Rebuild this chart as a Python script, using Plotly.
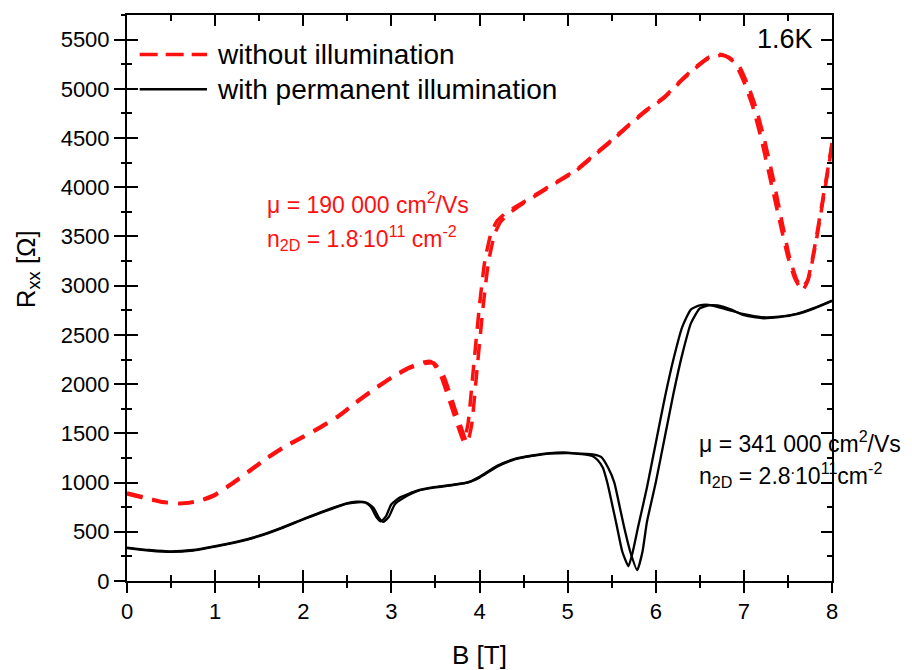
import plotly.graph_objects as go

# ---- data ----
# red dashed: without illumination (two sweeps)
red_up_B = [0.0, 0.2, 0.4, 0.6, 0.8, 1.0, 1.2, 1.4, 1.6, 1.8, 2.0, 2.2, 2.4, 2.6, 2.8,
            3.0, 3.2, 3.35, 3.45, 3.55, 3.67, 3.76, 3.82, 3.87, 3.93, 4.0, 4.06, 4.13, 4.2, 4.3,
            4.5, 4.7, 4.9, 5.1, 5.3, 5.5, 5.7, 5.9, 6.1, 6.3, 6.45, 6.6, 6.72, 6.8, 6.9,
            7.0, 7.1, 7.2, 7.3, 7.4, 7.5, 7.58, 7.65, 7.72, 7.8, 7.88, 7.95, 8.0]
red_up_R = [895, 850, 805, 790, 810, 880, 1000, 1130, 1260, 1375, 1470, 1570, 1680, 1820, 1950,
            2070, 2170, 2220, 2230, 2110, 1800, 1560, 1420, 1600, 2150, 2800, 3250, 3530, 3660, 3740,
            3850, 3960, 4070, 4180, 4330, 4480, 4640, 4790, 4920, 5100, 5220, 5320, 5350, 5330, 5260,
            5070, 4820, 4480, 4080, 3680, 3290, 3070, 2970, 3050, 3380, 3800, 4170, 4450]

red_down_B = [0.0, 0.2, 0.4, 0.6, 0.8, 1.0, 1.2, 1.4, 1.6, 1.8, 2.0, 2.2, 2.4, 2.6, 2.8,
              3.0, 3.2, 3.38, 3.48, 3.59, 3.71, 3.8, 3.86, 3.91, 3.97, 4.04, 4.1, 4.17, 4.24, 4.33,
              4.5, 4.7, 4.9, 5.1, 5.3, 5.5, 5.7, 5.9, 6.1, 6.3, 6.45, 6.6, 6.74, 6.83, 6.94,
              7.04, 7.14, 7.24, 7.34, 7.43, 7.52, 7.6, 7.67, 7.73, 7.81, 7.89, 7.96, 8.0]
red_down_R = [885, 840, 800, 785, 805, 870, 990, 1120, 1250, 1365, 1460, 1560, 1670, 1810, 1940,
              2060, 2160, 2210, 2215, 2090, 1780, 1540, 1400, 1580, 2130, 2780, 3230, 3520, 3650, 3730,
              3840, 3950, 4060, 4170, 4320, 4470, 4630, 4780, 4910, 5090, 5210, 5310, 5340, 5320, 5240,
              5050, 4800, 4460, 4060, 3660, 3280, 3060, 2960, 3060, 3400, 3820, 4200, 4430]

# black solid: with permanent illumination (two sweeps)
blk_up_B = [0.0, 0.25, 0.5, 0.75, 1.0, 1.25, 1.5, 1.75, 2.0, 2.25, 2.5, 2.6, 2.7, 2.77, 2.83,
            2.88, 2.94, 3.0, 3.1, 3.3, 3.5, 3.7, 3.86, 4.0, 4.2, 4.4, 4.6, 4.8, 5.0, 5.15,
            5.28, 5.34, 5.4, 5.45, 5.5, 5.56, 5.62, 5.69, 5.74, 5.8, 5.9, 6.0, 6.1, 6.2, 6.3,
            6.4, 6.5, 6.6, 6.8, 7.0, 7.2, 7.4, 7.6, 7.8, 8.0]
blk_up_R = [340, 315, 300, 315, 355, 400, 460, 540, 630, 715, 790, 805, 800, 750, 650,
            605, 660, 780, 850, 920, 955, 980, 1000, 1060, 1170, 1240, 1275, 1300, 1305, 1290,
            1270, 1230, 1150, 1000, 800, 550, 300, 150, 300, 550, 950, 1400, 1850, 2250, 2580,
            2760, 2800, 2805, 2760, 2710, 2680, 2685, 2715, 2775, 2850]

blk_down_B = [0.0, 0.25, 0.5, 0.75, 1.0, 1.25, 1.5, 1.75, 2.0, 2.25, 2.5, 2.62, 2.72, 2.8, 2.86,
              2.91, 2.97, 3.04, 3.14, 3.3, 3.5, 3.7, 3.9, 4.0, 4.2, 4.4, 4.6, 4.8, 5.0, 5.15,
              5.3, 5.38, 5.46, 5.53, 5.58, 5.64, 5.71, 5.79, 5.85, 5.9, 6.0, 6.1, 6.2, 6.3, 6.4,
              6.5, 6.6, 6.7, 6.85, 7.0, 7.2, 7.4, 7.6, 7.8, 8.0]
blk_down_R = [335, 310, 295, 310, 350, 395, 455, 535, 625, 710, 785, 800, 795, 740, 640,
              600, 650, 780, 845, 915, 950, 975, 1010, 1050, 1160, 1235, 1270, 1295, 1300, 1295,
              1285, 1260, 1150, 1000, 800, 550, 300, 110, 300, 600, 1000, 1450, 1900, 2300, 2620,
              2770, 2800, 2800, 2760, 2700, 2670, 2680, 2710, 2770, 2845]

x_range = [0, 8]
y_range = [0, 5750]

FONT = "Liberation Sans, Arial, sans-serif"
RED = "#ff1010"

fig = go.Figure()
for bx, ry in [(red_up_B, red_up_R), (red_down_B, red_down_R)]:
    fig.add_trace(go.Scatter(x=bx, y=ry, mode="lines", name="without illumination",
                             showlegend=False,
                             line=dict(color=RED, width=3.5, dash="16px,10px",
                                       shape="spline", smoothing=0.5)))
for bx, ry in [(blk_up_B, blk_up_R), (blk_down_B, blk_down_R)]:
    fig.add_trace(go.Scatter(x=bx, y=ry, mode="lines", name="with permanent illumination",
                             showlegend=False,
                             line=dict(color="black", width=2.3,
                                       shape="spline", smoothing=0.5)))
# empty trace to carry the outer (labelled) axes
fig.add_trace(go.Scatter(x=[], y=[], xaxis="x2", yaxis="y2", showlegend=False,
                         hoverinfo="skip"))

common = dict(showgrid=False, zeroline=False, tickcolor="black", tickwidth=2)

# page body adds an 8px offset at top/left, so the figure is 8px smaller
fig.update_layout(
    width=904, height=662,
    margin=dict(l=119, r=80, t=5, b=85),
    paper_bgcolor="white", plot_bgcolor="white",
    font=dict(family=FONT, color="black"),
    xaxis=dict(range=x_range, dtick=1, tick0=0, ticks="inside", ticklen=11,
               showline=True, linewidth=2, linecolor="black", mirror="ticks",
               showticklabels=False,
               minor=dict(dtick=0.5, tick0=0, ticks="inside", ticklen=6,
                          tickwidth=2, tickcolor="black"), **common),
    yaxis=dict(range=y_range, dtick=500, tick0=0, ticks="inside", ticklen=11,
               showline=True, linewidth=2, linecolor="black", mirror="ticks",
               showticklabels=False,
               minor=dict(dtick=250, tick0=0, ticks="inside", ticklen=5,
                          tickwidth=2, tickcolor="black"), **common),
    xaxis2=dict(range=x_range, dtick=1, tick0=0, overlaying="x", anchor="y", side="bottom",
                ticks="outside", ticklen=11, showline=False,
                tickfont=dict(size=22, family=FONT, color="black"),
                title=dict(text="B [T]", font=dict(size=26, family=FONT), standoff=22),
                minor=dict(dtick=0.5, tick0=0, ticks="outside", ticklen=6,
                           tickwidth=2, tickcolor="black"), **common),
    yaxis2=dict(range=y_range, dtick=500, tick0=0, overlaying="y", anchor="x", side="left",
                ticks="outside", ticklen=12, showline=False,
                tickfont=dict(size=22, family=FONT, color="black"),
                minor=dict(dtick=250, tick0=0, ticks="outside", ticklen=5,
                           tickwidth=2, tickcolor="black"), **common),
    showlegend=False,
)

# y-axis title, placed like in the reference (slightly above the middle)
fig.add_annotation(text="R<sub>xx</sub> [Ω]", xref="paper", yref="paper",
                   x=-0.141, y=0.55, xanchor="center", yanchor="middle", textangle=-90,
                   showarrow=False, font=dict(size=26, family=FONT, color="black"))

# hand-drawn legend (long line samples as in the reference)
fig.add_shape(type="line", xref="paper", yref="paper", x0=0.018, x1=0.1135, y0=0.930, y1=0.930,
              line=dict(color=RED, width=3.5, dash="18px,8px"))
fig.add_shape(type="line", xref="paper", yref="paper", x0=0.018, x1=0.1135, y0=0.869, y1=0.869,
              line=dict(color="black", width=2.5))
legend_texts = ["without illumination", "with permanent illumination"]
for txt, yy in zip(legend_texts, [0.930, 0.869]):
    fig.add_annotation(text=txt, xref="paper", yref="paper", x=0.125, y=yy,
                       xanchor="left", yanchor="middle", showarrow=False,
                       font=dict(size=28, family=FONT, color="black"))

fig.add_annotation(text="1.6K", xref="paper", yref="paper", x=0.976, y=0.958,
                   xanchor="right", yanchor="middle", showarrow=False,
                   font=dict(size=27, family=FONT, color="black"))

fig.add_annotation(text="μ = 190 000 cm<sup>2</sup>/Vs", xref="paper", yref="paper",
                   x=0.196, y=0.668, xanchor="left", yanchor="middle", showarrow=False,
                   font=dict(size=23, family=FONT, color=RED))
fig.add_annotation(text="n<sub>2D</sub> = 1.8<sup>.</sup>10<sup>11</sup> cm<sup>-2</sup>",
                   xref="paper", yref="paper",
                   x=0.196, y=0.606, xanchor="left", yanchor="middle", showarrow=False,
                   font=dict(size=23, family=FONT, color=RED))
fig.add_annotation(text="μ = 341 000 cm<sup>2</sup>/Vs", xref="paper", yref="paper",
                   x=0.808, y=0.245, xanchor="left", yanchor="middle", showarrow=False,
                   font=dict(size=23, family=FONT, color="black"))
fig.add_annotation(text="n<sub>2D</sub> = 2.8<sup>.</sup>10<sup>11</sup>cm<sup>-2</sup>",
                   xref="paper", yref="paper",
                   x=0.808, y=0.187, xanchor="left", yanchor="middle", showarrow=False,
                   font=dict(size=23, family=FONT, color="black"))

fig.write_html("out.html")
